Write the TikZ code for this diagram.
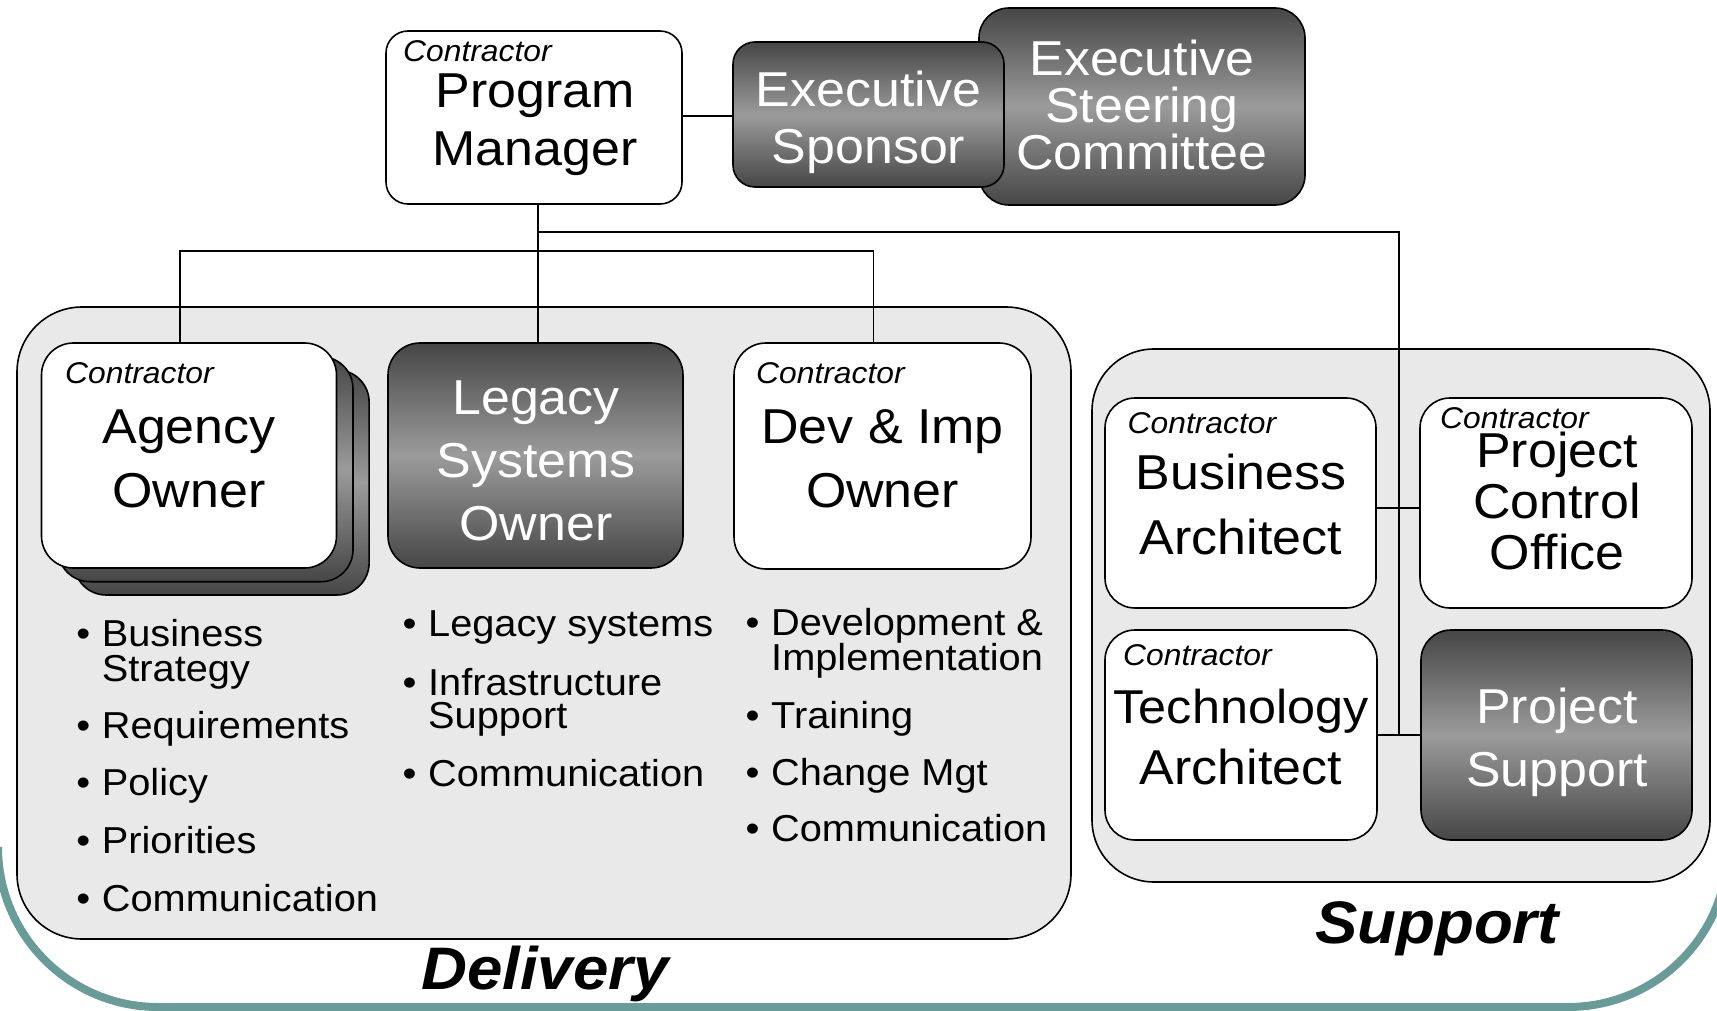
\documentclass[tikz,border=0pt]{standalone}
\usepackage{fontspec}
\setmainfont{Liberation Sans}[FakeStretch=1.06]
\usetikzlibrary{calc}
\definecolor{frameteal}{RGB}{104,156,153}
\definecolor{panel}{RGB}{233,233,233}
\definecolor{dk}{RGB}{70,70,70}
\definecolor{lt}{RGB}{155,155,155}
\newcommand\lstack[2]{{\fontsize{49pt}{#1}\selectfont\vtop{\halign{\hfil##\hfil\cr#2\crcr}}}}
\tikzset{
  panelbox/.style={draw=black, line width=1.6pt, fill=panel, rectangle, inner sep=0pt},
  whitebox/.style={draw=black, line width=1.6pt, fill=white, rectangle, inner sep=0pt},
  darkbox/.style={draw=black, line width=1.6pt, rectangle, inner sep=0pt,
    top color=dk, bottom color=dk, middle color=lt},
  conn/.style={draw=black, line width=1.6pt},
  bigtext/.style={inner sep=0pt, anchor=base},
  ctr/.style={inner sep=0pt, anchor=base west, font=\itshape\fontsize{30pt}{30pt}\selectfont},
  item/.style={inner sep=0pt, anchor=base west, font=\fontsize{37.5pt}{37.5pt}\selectfont},
  grouplabel/.style={inner sep=0pt, anchor=base, font=\bfseries\itshape\fontsize{60pt}{60pt}\selectfont},
  frame/.style={draw=frameteal, line width=8pt, rounded corners=160pt}
}
\newcommand\bul{\llap{\textbullet\hspace{11.6pt}}}
\begin{document}
\begin{tikzpicture}[x=1pt,y=-1pt]
\useasboundingbox (0,0) rectangle (1717,1011);
\begin{scope}
  \clip (0,0) rectangle (1717,1011);
  \draw[frame] (-2,847) -- (-2,1007) -- (1728,1007) -- (1728,847);
\end{scope}

% containers
\node[panelbox, rounded corners=65pt, minimum width=1054pt, minimum height=632pt] (deliv) at (544,623) {};
\node[panelbox, rounded corners=62pt, minimum width=618pt, minimum height=533pt] (supp) at (1401,615.5) {};

% program manager
\node[whitebox, rounded corners=22pt, minimum width=296pt, minimum height=173pt] (pm) at (534,117.5) {};
\coordinate (stem) at ([xshift=4pt]pm.south);

% connectors
\coordinate (esanchor) at (733,116);
\draw[conn] (pm.east |- esanchor) -- (esanchor);
\coordinate (lotop) at (538,343);
\draw[conn] (stem) -- (lotop);
\coordinate (aotop) at (180,343);
\coordinate (dvtop) at (873.5,343);
\draw[conn] (aotop) -- ++(0,-92) -| (dvtop);
\coordinate (tps) at (1399,735);
\draw[conn] (stem |- 0,232) -| (tps);

% executive boxes
\node[darkbox, rounded corners=30pt, minimum width=326pt, minimum height=197pt] (esc) at (1142,106.5) {};
\node[darkbox, rounded corners=22pt, minimum width=271pt, minimum height=145pt] (es) at (868.5,114.5) {};

% delivery boxes
\node[darkbox, rounded corners=32pt, minimum width=295pt, minimum height=225pt] (ao3) at (221.6,482.5) {};
\node[darkbox, rounded corners=32pt, minimum width=295pt, minimum height=225pt] (ao2) at (205.5,469.2) {};
\node[whitebox, rounded corners=32pt, minimum width=295pt, minimum height=225pt] (ao) at (189,455.5) {};
\node[darkbox, rounded corners=32pt, minimum width=295pt, minimum height=225pt] (lo) at (535.5,455.5) {};
\node[whitebox, rounded corners=32pt, minimum width=297pt, minimum height=226pt] (dv) at (882.5,456) {};

% support boxes
\node[whitebox, rounded corners=30pt, minimum width=271pt, minimum height=210pt] (ba) at (1240.5,503) {};
\node[whitebox, rounded corners=30pt, minimum width=272pt, minimum height=210pt] (pco) at (1556,503) {};
\node[whitebox, rounded corners=30pt, minimum width=272pt, minimum height=210pt] (ta) at (1241,735) {};
\node[darkbox, rounded corners=30pt, minimum width=271pt, minimum height=210pt] (ps) at (1556.5,735) {};
\draw[conn] ([yshift=-5pt]ba.east) -- ([yshift=-5pt]pco.west);
\draw[conn] (ta.east) -- (ps.west);

% box texts
\node[bigtext] (pmt) at (535,107.7) {\lstack{58.3pt}{Program\cr Manager}};
\node[bigtext, text=white] (est) at (868.5,106.7) {\lstack{56.6pt}{Executive\cr Sponsor}};
\node[bigtext, text=white] (esct) at (1142,76) {\lstack{47pt}{Executive\cr Steering\cr Committee}};
\node[bigtext] (aot) at (189,443) {\lstack{64pt}{Agency\cr Owner}};
\node[bigtext, text=white] (lot) at (536,414) {\lstack{63pt}{Legacy\cr Systems\cr Owner}};
\node[bigtext] (dvt) at (882.5,443) {\lstack{64pt}{Dev \& Imp\cr Owner}};
\node[bigtext] (bat) at (1241,489.5) {\lstack{64.5pt}{Business\cr Architect}};
\node[bigtext] (pcot) at (1557,467) {\lstack{51.3pt}{Project\cr Control\cr Office}};
\node[bigtext] (tat) at (1241,723.5) {\lstack{61pt}{{\fontsize{47.5pt}{61pt}\selectfont Technology}\cr Architect}};
\node[bigtext, text=white] (pst) at (1557,723) {\lstack{63pt}{Project\cr Support}};

% contractor labels
\node[ctr] (pmc) at (403,62) {Contractor};
\node[ctr] (aoc) at (65,383.3) {Contractor};
\node[ctr] (dvc) at (756,383.5) {Contractor};
\node[ctr] (bac) at (1127.5,433.5) {Contractor};
\node[ctr] (pcoc) at (1440,428) {Contractor};
\node[ctr] (tac) at (1123,665) {Contractor};

% bullet lists
\node[item] (a1) at (101.7,646.7) {\bul Business};
\node[item] (a1b) at (101.7,681.7) {Strategy};
\node[item] (a2) at (101.7,738) {\bul Requirements};
\node[item] (a3) at (101.7,795) {\bul Policy};
\node[item] (a4) at (101.7,853) {\bul Priorities};
\node[item] (a5) at (101.7,911.7) {\bul Communication};

\node[item] (b1) at (428,636.7) {\bul Legacy systems};
\node[item] (b2) at (428,695) {\bul Infrastructure};
\node[item] (b2b) at (428,728) {Support};
\node[item] (b3) at (428,786.7) {\bul Communication};

\node[item] (c1) at (771,635) {\bul Development \&};
\node[item] (c1b) at (771,670) {Implementation};
\node[item] (c2) at (771,728) {\bul Training};
\node[item] (c3) at (771,785) {\bul Change Mgt};
\node[item] (c4) at (771,841.7) {\bul Communication};

% group labels
\node[grouplabel] (delivlbl) at (545,989) {Delivery};
\node[grouplabel] (supplbl) at (1437,943) {Support};
\end{tikzpicture}
\end{document}
